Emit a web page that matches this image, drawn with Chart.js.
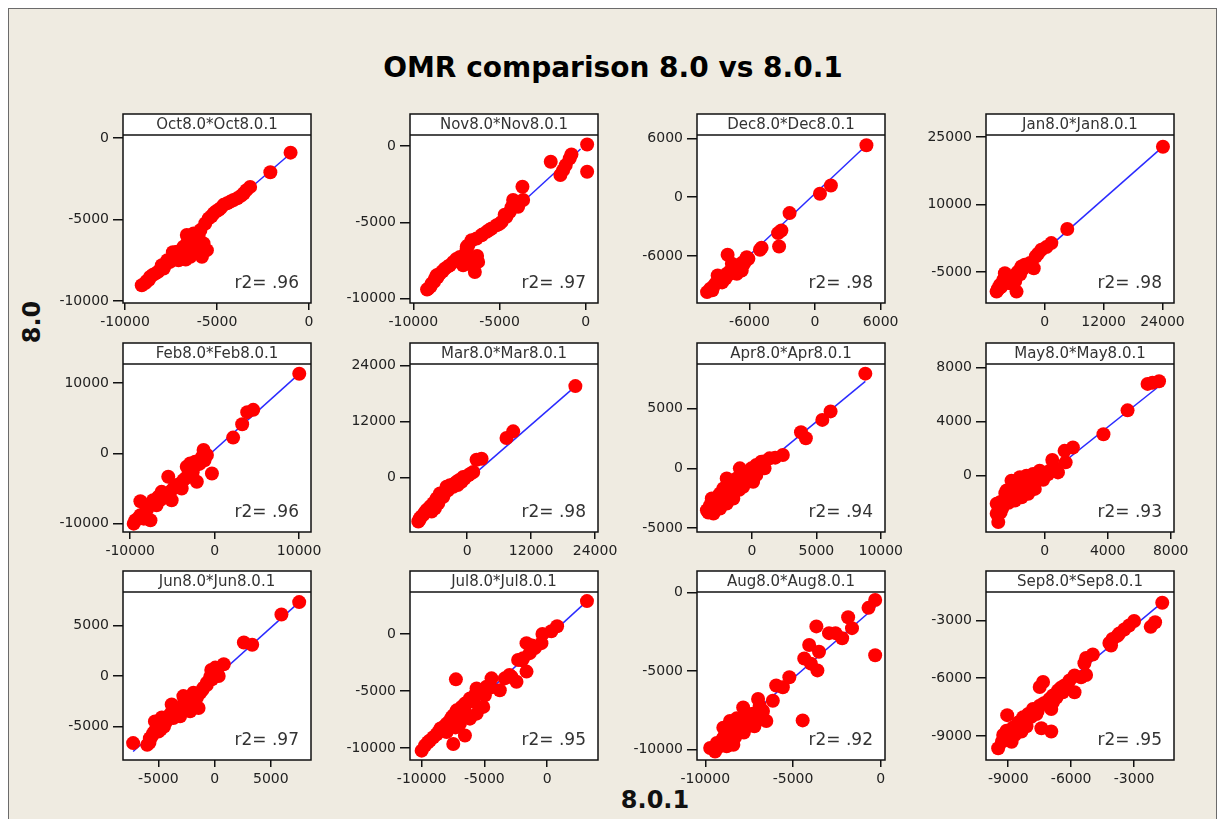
<!DOCTYPE html>
<html>
<head>
<meta charset="utf-8">
<script src="https://cdn.jsdelivr.net/npm/chart.js@4.4.0/dist/chart.umd.min.js"></script>
<style>
  body { margin:0; background:#fff; width:1226px; height:819px; overflow:hidden; position:relative; font-family:"DejaVu Sans", sans-serif; }
  #frame { position:absolute; left:8px; top:8px; width:1207px; height:830px; border:1px solid #6b6b6b; background:#efebe1; }
  canvas { position:absolute; }
  #title { position:absolute; left:0; width:1226px; top:51px; text-align:center; font:bold 28px "DejaVu Sans"; color:#000; }
  #ylab { position:absolute; left:32px; top:322px; transform:translate(-50%,-50%) rotate(-90deg); font:bold 24px "DejaVu Sans"; color:#111; }
  #xlab { position:absolute; left:655px; top:800px; transform:translate(-50%,-50%); font:bold 24px "DejaVu Sans"; color:#111; }
</style>
</head>
<body>
<div id="frame"></div>
<div id="title">OMR comparison 8.0 vs 8.0.1</div>
<div id="ylab">8.0</div>
<div id="xlab">8.0.1</div>
<script>
// 8.0.1 value (x), 8.0 value (y)
const octPts = [[-1000,-900],[-2100,-2100],[-3200,-3000],[-3400,-3200],[-3550,-3400],[-3700,-3550],[-3900,-3700],[-4100,-3800],[-4270,-3900],[-4450,-4000],[-4640,-4100],[-4900,-4400],[-5050,-4500],[-5180,-4620],[-5450,-4930],[-5640,-5240],[-5900,-5650],[-6270,-5850],[-6640,-5950],[-6550,-6260],[-6090,-6370],[-5730,-6470],[-5820,-7290],[-6090,-6880],[-6450,-6880],[-6820,-6670],[-7180,-6980],[-7360,-7290],[-7550,-7600],[-7820,-7800],[-8090,-8070],[-8360,-8320],[-8640,-8520],[-8820,-8770],[-9090,-9030],[-6450,-7290],[-6820,-7390],[-7090,-7500],[-5550,-6880],[-6000,-6000],[-6300,-6600],[-6700,-7100],[-7000,-7200],[-8500,-8400],[-8900,-8900],[-5300,-4800],[-4800,-4300],
  [-7400,-7000],[-7700,-7500],[-8000,-7800],[-8200,-8200],[-6600,-6400],[-6200,-6200],[-5900,-6800],[-6700,-7450],[-7900,-8000],[-8700,-8700],[-6400,-7100]];
const novPts = [[80,100],[80,-1690],[-830,-550],[-930,-810],[-1160,-1250],[-1310,-1580],[-1470,-1900],[-2030,-1030],[-3670,-2670],[-3630,-3540],[-4210,-3540],[-3920,-3980],[-4400,-4310],[-4600,-4640],[-4880,-4970],[-5170,-5190],[-5460,-5400],[-5750,-5620],[-6040,-5840],[-6330,-6060],[-6620,-6170],[-6810,-6500],[-6910,-6830],[-6720,-7370],[-6530,-7810],[-6240,-7590],[-6430,-8250],[-7300,-7260],[-7680,-7590],[-7880,-7810],[-8170,-8030],[-8460,-8360],[-8740,-8690],[-8940,-9010],[-9130,-9340],[-8650,-8470],[-7110,-7810],[-5000,-5100],[-4300,-4000],[-8300,-8200],[-9000,-9200],
  [-8600,-8600],[-8800,-8900],[-8000,-7900],[-7500,-7400],[-6900,-6600],[-6000,-5800],[-5600,-5500],[-4700,-4500],[-6300,-7200],[-9200,-9400]];
const decPts = [[4700,5300],[1450,1190],[450,340],[-2330,-1630],[-3080,-3400],[-3380,-3670],[-3290,-5030],[-4890,-5170],[-5040,-5370],[-6100,-6290],[-6400,-6530],[-6710,-6730],[-7010,-6970],[-8000,-5880],[-7310,-7310],[-7760,-7550],[-8070,-7820],[-8370,-8100],[-8910,-7990],[-8670,-8500],[-9120,-8840],[-9580,-9350],[-9880,-9690],[-7160,-7820],[-6710,-7480],[-7610,-6800],[-6250,-6120],[-7010,-7410],[-7500,-7000],[-9300,-9100],[-8200,-8300],
  [-9400,-9500],[-8800,-8600],[-8500,-8700],[-7900,-7900],[-7400,-7600],[-6900,-7200],[-6500,-6800],[-6800,-7500]];
const janPts = [[24100,22900],[4600,4560],[1350,1440],[340,540],[-680,-50],[-1350,-950],[-1820,-1540],[-2230,-4150],[-4050,-3400],[-5070,-4520],[-5740,-5410],[-6760,-6010],[-7770,-5860],[-8450,-6750],[-9120,-7870],[-9800,-9360],[-9460,-8610],[-5740,-9360],[-7100,-7500],[-8110,-5260],[-6420,-6750],[-4730,-3780],[-8800,-8200],[-6000,-7000],[-5000,-5500],[-7500,-7000],
  [-9600,-9000],[-9000,-8400],[-8500,-7500],[-7800,-6700],[-7200,-6400],[-6500,-6300],[-5500,-5000],[-4400,-4300],[-3000,-3000]];
const febPts = [[10020,11330],[4570,6190],[3860,5860],[3260,4140],[2190,2240],[-1310,480],[-910,-240],[-320,-2860],[-1710,-950],[-2310,-1190],[-2900,-1430],[-3300,-1900],[-2700,-2380],[-3100,-3100],[-3700,-3810],[-4290,-4430],[-4890,-5000],[-5490,-3330],[-5290,-5480],[-6080,-5860],[-6680,-6190],[-7280,-6670],[-7870,-7380],[-8790,-6810],[-8190,-8330],[-8790,-8810],[-9380,-9520],[-9580,-10000],[-8390,-9290],[-7600,-9520],[-5090,-6670],[-3900,-5000],[-2110,-4050],[-6880,-7380],[-6280,-5480],[-1500,-500],[-2500,-2000],
  [-9000,-9200],[-8500,-8900],[-8000,-8000],[-7000,-7000],[-6400,-6600],[-5800,-6000],[-4500,-4700],[-3400,-3500],[-2600,-2700],[-1800,-1500],[-1200,-1000]];
const marPts = [[20310,19550],[8630,9880],[7380,8470],[2690,4020],[1750,3810],[1130,1200],[190,490],[-750,140],[-1060,-920],[-2000,-920],[-3250,-1620],[-3880,-1980],[-4190,-3030],[-5130,-3390],[-5750,-4450],[-6380,-5500],[-7000,-6210],[-7630,-6920],[-8250,-7970],[-8880,-8680],[-9190,-9390],[-4500,-4090],[-2630,-1980],[-5440,-5500],[-6690,-7270],[-6060,-6560],[-3500,-2500],[-1500,-500],[-8000,-7500],
  [-8600,-8300],[-7800,-7400],[-7300,-6700],[-6600,-6000],[-5900,-5000],[-5200,-4500],[-4800,-3700],[-3700,-2800],[-3000,-2000],[-2300,-1200],[-1800,-1600],[-500,-200],[600,800],[-9000,-9100]];
const aprPts = [[8800,7950],[6100,4780],[5460,4070],[3800,3030],[4180,2530],[2390,1120],[1360,840],[720,560],[330,280],[-50,0],[-440,-280],[-690,-560],[-950,0],[-1200,-840],[-1460,-1120],[-1720,-1400],[-1970,-840],[-2230,-1690],[-2490,-2110],[-2740,-2530],[-3000,-2810],[-3260,-3090],[-3130,-2530],[-3510,-3510],[-3000,-3790],[-2490,-3370],[-1970,-2950],[-1460,-2530],[-690,-1540],[80,-1120],[330,-560],[970,0],[-1720,-1970],[-2200,-2600],[-1000,-1800],[-300,-800],
  [-2900,-3300],[-3300,-3300],[-2600,-2300],[-2000,-2200],[-1600,-1700],[-1200,-1300],[-800,-1100],[-400,-500],[0,-400],[500,200],[1000,600],[1800,900],[-2300,-3000],[-3400,-3700]];
const mayPts = [[7260,6970],[6840,6850],[6530,6770],[5260,4820],[3730,3060],[1790,2080],[1260,1830],[1330,980],[840,240],[480,1150],[320,370],[0,120],[-320,-120],[-630,-370],[-950,-610],[-1260,-860],[-1580,-610],[-1790,-1100],[-2110,-370],[-2210,-1340],[-2530,-1710],[-2840,-1960],[-3050,-2080],[-2950,-3420],[-3050,-2810],[-2420,-1100],[-1890,-1830],[-1470,-1590],[-1050,-1340],[-630,-980],[-1160,0],[-740,120],[-320,370],[-1580,-120],[-2000,-800],[-2700,-2400],
  [-2500,-1300],[-2300,-2000],[-1900,-1400],[-1700,-800],[-1300,-1100],[-1000,-500],[-700,-700],[-400,-100],[-100,-300],[200,100],[600,600],[-2800,-2700],[-2100,-900]];
const junPts = [[7520,7310],[5940,6080],[3340,3090],[2600,3320],[810,1160],[60,830],[360,0],[-240,-330],[-690,-660],[-990,-1160],[-1280,-1660],[-1580,-2160],[-1430,-3160],[-2030,-2490],[-2480,-2820],[-2780,-1990],[-3070,-3160],[-3520,-3490],[-3820,-2820],[-4120,-3990],[-4570,-4320],[-4870,-4650],[-5160,-5150],[-5460,-5650],[-5760,-6150],[-6000,-6810],[-7250,-6640],[-5310,-4490],[-3670,-4150],[-3070,-3990],[-2180,-3490],[-1880,-1660],[-4500,-5000],[-5000,-5500],[-300,600],
  [-5600,-6000],[-5300,-5400],[-4900,-4900],[-4700,-4100],[-4300,-4500],[-3900,-3700],[-3300,-3300],[-2700,-2600],[-2300,-2200],[-1700,-1900],[-1100,-1400],[-700,-900],[-400,-100],[200,500],[-4800,-5300],[-5800,-6600]];
const julPts = [[3180,2890],[800,680],[340,240],[-370,0],[-450,-800],[-980,-1240],[-1640,-800],[-1380,-1680],[-1910,-2120],[-2310,-2270],[-1640,-3300],[-2840,-3750],[-3370,-3890],[-3770,-4930],[-4430,-3890],[-4830,-4630],[-5620,-4780],[-5760,-5370],[-6150,-5660],[-6550,-6110],[-6820,-6400],[-7210,-6700],[-7270,-3980],[-7480,-7140],[-7750,-7580],[-8010,-7880],[-8280,-8170],[-6550,-8910],[-7480,-9650],[-8670,-8610],[-9070,-9060],[-9340,-9350],[-9730,-9790],[-10000,-10240],[-5090,-6400],[-5620,-6990],[-6150,-7430],[-6950,-7880],[-8010,-8610],[-4960,-5370],[-2440,-4190],
  [-9500,-9500],[-8800,-8800],[-8500,-8300],[-7900,-8200],[-7600,-7300],[-7000,-7000],[-6600,-6700],[-6300,-6000],[-5900,-5900],[-5300,-5100],[-4500,-4700],[-3000,-3600],[-2000,-2300],[-1200,-1000],[-7300,-8200]];
const augPts = [[-320,-470],[-700,-970],[-320,-3980],[-1860,-1570],[-1640,-2260],[-2200,-2900],[-2580,-2580],[-2950,-2580],[-3670,-2150],[-4080,-3330],[-3520,-3760],[-4360,-4190],[-3980,-4520],[-3610,-4950],[-5210,-5380],[-5580,-6020],[-5960,-5910],[-6150,-6880],[-6990,-6770],[-6710,-7530],[-7090,-8170],[-4450,-8130],[-7840,-7310],[-7560,-7850],[-8210,-8000],[-8590,-8170],[-8970,-8600],[-8590,-9030],[-8970,-9250],[-9340,-9570],[-9720,-9890],[-9440,-10110],[-8210,-8820],[-7740,-8600],[-7370,-8390],[-6520,-8170],[-8400,-9680],[-8780,-9780],
  [-9000,-9300],[-8800,-8700],[-8400,-8500],[-8000,-8300],[-7800,-8900],[-7600,-8100],[-7300,-7700],[-8700,-9500],[-9200,-9800],[-6900,-7200],[-8300,-9200],[-7200,-8500]];
const sepPts = [[-1660,-2080],[-2000,-3090],[-2210,-3330],[-3000,-3030],[-3240,-3260],[-3470,-3470],[-3710,-3680],[-4030,-3960],[-4180,-4170],[-4970,-4770],[-5290,-4950],[-5370,-5220],[-5290,-5830],[-5840,-5860],[-6080,-6120],[-5840,-6730],[-6320,-6380],[-6630,-6640],[-6870,-6900],[-7340,-6200],[-7500,-6460],[-7030,-7080],[-6950,-7600],[-7500,-7430],[-7820,-7600],[-8050,-7860],[-8290,-8030],[-8530,-8300],[-9050,-7920],[-8770,-8560],[-9080,-8730],[-9240,-8950],[-9480,-9640],[-8840,-9300],[-6950,-8770],[-7420,-8600],[-8370,-8770],[-8690,-8950],[-8130,-8500],[-7660,-7860],[-6870,-7250],[-6400,-6730],[-5530,-5950],
  [-9300,-9300],[-9000,-9100],[-8600,-8700],[-8400,-8600],[-8200,-8200],[-7900,-8000],[-7600,-7700],[-7300,-7300],[-7100,-7200],[-6700,-7000],[-6500,-6500],[-6200,-6400],[-3800,-3800],[-4100,-4300]];

// fitted line end points (x, y) as drawn
const octFit = [[-9100,-8800],[-1000,-950]];
const novFit = [[-9100,-9300],[-300,-200]];
const decFit = [[-9700,-9800],[4700,5300]];
const janFit = [[-9800,-9700],[24100,22900]];
const febFit = [[-9900,-10200],[10000,11300]];
const marFit = [[-9200,-9700],[20300,19500]];
const aprFit = [[-3500,-3650],[8800,7300]];
const mayFit = [[-3050,-2930],[7260,6600]];
const junFit = [[-7250,-7470],[7520,7310]];
const julFit = [[-10000,-10380],[3180,2890]];
const augFit = [[-9800,-10100],[-300,-900]];
const sepFit = [[-9500,-9200],[-1700,-2100]];

const months = ['Oct','Nov','Dec','Jan','Feb','Mar','Apr','May','Jun','Jul','Aug','Sep'];
const r2Vals = ['.96','.97','.98','.98','.96','.98','.94','.93','.97','.95','.92','.95'];

const xTicks = [[-10000,-5000,0],[-10000,-5000,0],[-6000,0,6000],[0,12000,24000],
                [-10000,0,10000],[0,12000,24000],[0,5000,10000],[0,4000,8000],
                [-5000,0,5000],[-10000,-5000,0],[-10000,-5000,0],[-9000,-6000,-3000]];
const yTicks = [[0,-5000,-10000],[0,-5000,-10000],[6000,0,-6000],[25000,10000,-5000],
                [10000,0,-10000],[24000,12000,0],[5000,0,-5000],[8000,4000,0],
                [5000,0,-5000],[0,-5000,-10000],[0,-5000,-10000],[-3000,-6000,-9000]];

const allPts = [octPts,novPts,decPts,janPts,febPts,marPts,aprPts,mayPts,junPts,julPts,augPts,sepPts];
const allFits = [octFit,novFit,decFit,janFit,febFit,marFit,aprFit,mayFit,junFit,julFit,augFit,sepFit];

// axis extents of each panel box [xmin,xmax,ymin,ymax]
const extents = [[-10110,110,-10120,184],[-10190,710,-10280,720],[-10800,6400,-10800,6340],[-11960,26350,-11900,25500],
                 [-10850,11410,-11190,12710],[-10750,24560,-11640,24280],[-4280,10330,-5340,8760],[-3730,8210,-4160,8240],
                 [-8150,8570,-8310,8310],[-10930,4060,-11060,3690],[-10470,240,-10650,40],[-10060,-1100,-10250,-1520]];

// layout
const colLeft = [123, 410, 697, 986];
const rowTop = [113, 342, 570];
const BOXW = 188, BOXH = 168, HEAD = 22, AXW = 74, AXH = 32, PADR = 28;

const tickFont = { family: '"DejaVu Sans"', size: 14 };

const panelDeco = {
  id: 'panelDeco',
  beforeDraw(chart) {
    const { ctx, chartArea: a } = chart;
    ctx.save();
    ctx.fillStyle = '#fff';
    ctx.fillRect(a.left, 1, a.right - a.left, a.bottom - 1);
    ctx.restore();
  },
  afterDraw(chart, args, opts) {
    const { ctx, chartArea: a } = chart;
    ctx.save();
    ctx.strokeStyle = '#111';
    ctx.lineWidth = 1.5;
    ctx.strokeRect(a.left, 1, a.right - a.left, a.bottom - 1);
    ctx.beginPath();
    ctx.moveTo(a.left, a.top);
    ctx.lineTo(a.right, a.top);
    ctx.stroke();
    ctx.fillStyle = '#333';
    ctx.font = '15px "DejaVu Sans"';
    ctx.textAlign = 'center';
    ctx.textBaseline = 'middle';
    ctx.fillText(opts.head, (a.left + a.right) / 2, a.top / 2 + 1);
    ctx.font = '17px "DejaVu Sans"';
    ctx.textAlign = 'right';
    ctx.textBaseline = 'alphabetic';
    ctx.fillText('r2= ' + opts.r2, a.right - 12, a.bottom - 15);
    ctx.restore();
  }
};

months.forEach((m, i) => {
  const col = i % 4, row = Math.floor(i / 4);
  const cv = document.createElement('canvas');
  const w = AXW + BOXW + PADR, h = HEAD + BOXH + AXH;
  cv.width = w; cv.height = h;
  cv.style.left = (colLeft[col] - AXW) + 'px';
  cv.style.top = rowTop[row] + 'px';
  cv.style.width = w + 'px'; cv.style.height = h + 'px';
  document.body.appendChild(cv);

  const ext = extents[i];
  const xt = xTicks[i], yt = yTicks[i];

  new Chart(cv, {
    type: 'scatter',
    data: {
      datasets: [
        {
          data: allPts[i].map(p => ({ x: p[0], y: p[1] })),
          backgroundColor: '#ff0000',
          borderWidth: 0,
          pointRadius: 7,
          clip: 0
        },
        {
          type: 'line',
          data: allFits[i].map(p => ({ x: p[0], y: p[1] })),
          borderColor: '#2b2bff',
          borderWidth: 1.5,
          pointRadius: 0,
          clip: 0
        }
      ]
    },
    options: {
      responsive: false,
      animation: false,
      devicePixelRatio: 1,
      layout: { autoPadding: false, padding: { top: HEAD, right: PADR, left: 0, bottom: 0 } },
      plugins: {
        legend: { display: false },
        tooltip: { enabled: false },
        panelDeco: { head: m + '8.0*' + m + '8.0.1', r2: r2Vals[i] }
      },
      scales: {
        x: {
          type: 'linear', position: 'bottom', min: ext[0], max: ext[1],
          afterBuildTicks: s => { s.ticks = xt.map(v => ({ value: v })); },
          afterFit: s => { s.height = AXH; },
          grid: { drawOnChartArea: false, drawTicks: true, tickLength: 7, color: '#111', lineWidth: 1.5 },
          border: { display: false },
          ticks: { font: tickFont, color: '#222', padding: 4, maxRotation: 0, autoSkip: false, callback: v => String(v) }
        },
        y: {
          type: 'linear', position: 'left', min: ext[2], max: ext[3],
          afterBuildTicks: s => { s.ticks = yt.map(v => ({ value: v })); },
          afterFit: s => { s.width = AXW; },
          grid: { drawOnChartArea: false, drawTicks: true, tickLength: 10, color: '#111', lineWidth: 1.5 },
          border: { display: false },
          ticks: { font: tickFont, color: '#222', padding: 4, autoSkip: false, callback: v => String(v) }
        }
      }
    },
    plugins: [panelDeco]
  });
});
</script>
</body>
</html>
